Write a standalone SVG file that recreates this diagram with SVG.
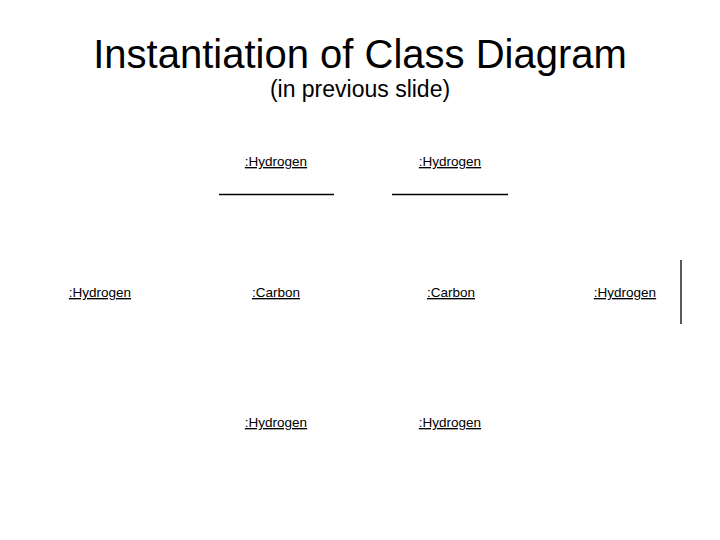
<svg xmlns="http://www.w3.org/2000/svg" width="720" height="540" viewBox="0 0 720 540">
<style>
text{font-family:"Liberation Sans",Arial,sans-serif;fill:#000}
.t{font-size:40px;text-anchor:middle}
.s{font-size:23px;text-anchor:middle}
.n{font-size:13.5px;text-anchor:middle;text-decoration:underline}
.c{stroke:#000;stroke-width:1.3;fill:none}
</style>
<rect width="720" height="540" fill="#fff"/>
<text class="t" x="360" y="68">Instantiation of Class Diagram</text>
<text class="s" x="360" y="97">(in previous slide)</text>
<g id="h1"><text class="n" x="276" y="166">:Hydrogen</text></g>
<g id="h2"><text class="n" x="450" y="166">:Hydrogen</text></g>
<g id="h3"><text class="n" x="100" y="297">:Hydrogen</text></g>
<g id="c1"><text class="n" x="276" y="297">:Carbon</text></g>
<g id="c2"><text class="n" x="451" y="297">:Carbon</text></g>
<g id="h4"><text class="n" x="625" y="297">:Hydrogen</text></g>
<g id="h5"><text class="n" x="276" y="427">:Hydrogen</text></g>
<g id="h6"><text class="n" x="450" y="427">:Hydrogen</text></g>
<g id="connectors">
<line class="c" x1="219" y1="194.5" x2="334" y2="194.5"/>
<line class="c" x1="392" y1="194.5" x2="508" y2="194.5"/>
<line class="c" x1="681" y1="260" x2="681" y2="324"/>
</g>
</svg>
